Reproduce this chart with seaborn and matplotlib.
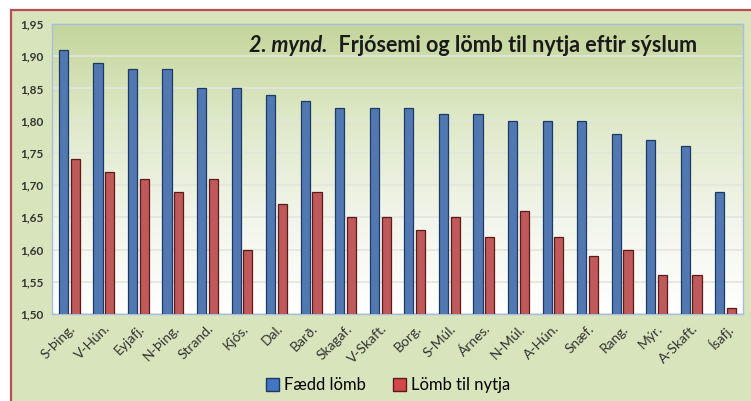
import numpy as np
import pandas as pd
import matplotlib
matplotlib.use("Agg")
import matplotlib.pyplot as plt
import seaborn as sns
from matplotlib.patches import Rectangle, Patch
from matplotlib.colors import LinearSegmentedColormap

# gögn
syslur = ["S-Þing.", "V-Hún.", "Eyjafj.", "N-Þing.", "Strand.", "Kjós.", "Dal.",
          "Barð.", "Skagaf.", "V-Skaft.", "Borg.", "S-Múl.", "Árnes.", "N-Múl.",
          "A-Hún.", "Snæf.", "Rang.", "Mýr.", "A-Skaft.", "Ísafj."]
faedd_lomb = [1.91, 1.89, 1.88, 1.88, 1.85, 1.85, 1.84, 1.83, 1.82, 1.82,
              1.82, 1.81, 1.81, 1.80, 1.80, 1.80, 1.78, 1.77, 1.76, 1.69]
lomb_til_nytja = [1.74, 1.72, 1.71, 1.69, 1.71, 1.60, 1.67, 1.69, 1.65, 1.65,
                  1.63, 1.65, 1.62, 1.66, 1.62, 1.59, 1.60, 1.56, 1.56, 1.51]
y_ticks = [1.50, 1.55, 1.60, 1.65, 1.70, 1.75, 1.80, 1.85, 1.90, 1.95]
series = ["Fædd lömb", "Lömb til nytja"]

df = pd.DataFrame({
    "sysla": syslur * 2,
    "gildi": faedd_lomb + lomb_til_nytja,
    "hopur": [series[0]] * len(syslur) + [series[1]] * len(syslur),
})

plt.rcParams["font.family"] = ["Lato", "DejaVu Sans"]
blue = "#4275c2"
red = "#d0484a"

fig = plt.figure(figsize=(7.51, 4.01), dpi=100)
fig.patch.set_facecolor("white")
# rammi utan um myndina
fig.patches.append(Rectangle((11 / 751, -0.05), 1.0, 1 - 10 / 401 + 0.05,
                             transform=fig.transFigure, facecolor="#d8e4bc",
                             edgecolor="#b9504f", linewidth=1.6, zorder=-10))

ax = fig.add_axes([52 / 751, 1 - 314 / 401, (743 - 52) / 751, (314 - 24) / 401])

# litaskali í bakgrunni
grad = LinearSegmentedColormap.from_list("g", ["#ffffff", "#f2f5ea", "#dfe9c9", "#c3d69b"])
ax.imshow(np.linspace(0, 1, 256).reshape(-1, 1)[::-1], aspect="auto", cmap=grad,
          extent=(-0.5, len(syslur) - 0.5, 1.50, 1.95), zorder=0)

sns.barplot(data=df, x="sysla", y="gildi", hue="hopur", palette=[blue, red],
            width=0.68, gap=0.22, ax=ax, zorder=3, legend=False)
for i, bar in enumerate(ax.patches):
    bar.set_edgecolor("#1d3a66" if i < len(syslur) else "#5e1a1a")
    bar.set_linewidth(0.9)

ax.set_xlim(-0.5, len(syslur) - 0.5)
ax.set_ylim(1.50, 1.95)
ax.set_yticks(y_ticks)
ax.set_yticklabels([f"{v:.2f}".replace(".", ",") for v in y_ticks],
                   fontsize=8.5, fontweight="bold", color="#333333")
ax.set_xticks(range(len(syslur)))
ax.set_xticklabels(syslur, rotation=45, ha="right", rotation_mode="anchor",
                   fontsize=10, color="#333333")
ax.tick_params(length=0, pad=6)
ax.tick_params(axis="y", pad=6)
ax.set_xlabel("")
ax.set_ylabel("")
ax.yaxis.grid(True, color="#e2e6dc", linewidth=1.2, zorder=1)
ax.set_axisbelow(True)
for s in ax.spines.values():
    s.set_color("#a7bfdc")
    s.set_linewidth(1.0)

# fyrirsögn
t1 = ax.text(0, 0, "2. mynd.", transform=fig.transFigure, fontsize=15.5,
             fontweight="bold", fontstyle="italic", color="#1a1a1a", va="center")
t2 = ax.text(0, 0, "  Frjósemi og lömb til nytja eftir sýslum", transform=fig.transFigure,
             fontsize=15.5, fontweight="bold", color="#1a1a1a", va="center")
fig.canvas.draw()
r = fig.canvas.get_renderer()
w1 = t1.get_window_extent(r).width
w2 = t2.get_window_extent(r).width
x_end = 697
x0 = x_end - w1 - w2
t1.set_position((x0 / 751, 1 - 45 / 401))
t2.set_position(((x0 + w1) / 751, 1 - 45 / 401))

handles = [Patch(facecolor=blue, edgecolor="#1d3a66"), Patch(facecolor=red, edgecolor="#5e1a1a")]
fig.legend(handles, series, loc="center", bbox_to_anchor=(388 / 751, 1 - 385 / 401),
           ncol=2, frameon=False, fontsize=12, handlelength=0.8, handleheight=0.8,
           handletextpad=0.3, columnspacing=1.6)

fig.savefig("out.png", dpi=100)
